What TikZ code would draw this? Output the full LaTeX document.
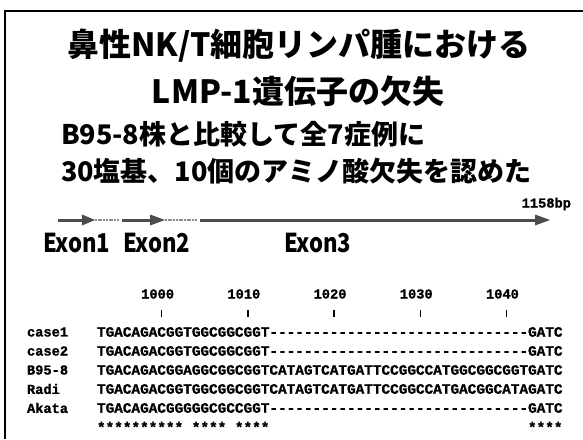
\documentclass[tikz,border=0pt]{standalone}
\usepackage{fontspec}
\setmainfont{Liberation Sans}
\newfontfamily\jp{Noto Sans CJK JP}
\newfontfamily\jpn{Noto Sans CJK JP}[FakeStretch=0.85]
\newfontfamily\seqf{Liberation Mono}[Ligatures=TeXOff,BoldFeatures={FakeBold=1.2}]
\begin{document}
\begin{tikzpicture}[x=1pt,y=-1pt,
  every node/.style={inner sep=0pt,outer sep=0pt},
  titletext/.style={font=\jp\bfseries\fontsize{32}{32}\selectfont},
  subtext/.style={font=\jp\bfseries\fontsize{27}{27}\selectfont,anchor=west},
  exontext/.style={font=\jpn\bfseries\fontsize{26}{26}\selectfont,anchor=west},
  seqtext/.style={font=\seqf\bfseries\fontsize{14.37}{14.37}\selectfont,anchor=west},
  lbltext/.style={font=\seqf\bfseries\fontsize{13.7}{13.7}\selectfont,anchor=west},
  numtext/.style={font=\seqf\bfseries\fontsize{13.7}{13.7}\selectfont},
  darkseg/.style={line width=3pt,draw=black!70},
  lightseg/.style={line width=2pt,draw=black!45,dash pattern=on 2pt off 0.7pt},
  headfill/.style={fill=black!70},
  tick/.style={line width=1.4pt}]
\useasboundingbox (0,0) rectangle (583,439);
\fill[white] (0,0) rectangle (583,439);
% frame
\draw[line width=2pt] (5,439) -- (5,11) -- (583,11);
% titles
\node[titletext] (t1) at (299,46) {鼻性NK/T細胞リンパ腫における};
\node[titletext] (t2) at (298,91) {LMP-1遺伝子の欠失};
\node[subtext] (s1) at (61,134) {B95-8株と比較して全7症例に};
\node[subtext] (s2) at (61,171) {30塩基、10個のアミノ酸欠失を認めた};
% gene arrow
\draw[darkseg] (58,220) -- (84,220);
\fill[headfill] (82,214.5) -- (95,220) -- (82,225.5) -- cycle;
\draw[lightseg] (95,220) -- (119,220);
\draw[darkseg] (122,220) -- (152,220);
\fill[headfill] (150,214.5) -- (165,220) -- (150,225.5) -- cycle;
\draw[lightseg] (165,220) -- (197,220);
\draw[darkseg] (200,220) -- (537,220);
\fill[headfill] (535,214.5) -- (550,220) -- (535,225.5) -- cycle;
\node[lbltext,anchor=east] (bp) at (571,204) {1158bp};
\node[exontext] (ex1) at (43,243) {Exon1};
\node[exontext] (ex2) at (123,243) {Exon2};
\node[exontext] (ex3) at (284,243) {Exon3};
% alignment numbering
\foreach \n/\i in {1000/7,1010/17,1020/27,1030/37,1040/47}{
  \pgfmathsetmacro\xx{97+(\i+0.5)*8.62}
  \node[numtext] (num\n) at (\xx-4,294) {\n};
  \draw[tick] (\xx,310) -- (\xx,317);
}
% labels
\node[lbltext] (l1) at (27,332) {case1};
\node[lbltext] (l2) at (27,351) {case2};
\node[lbltext] (l3) at (27,370) {B95-8};
\node[lbltext] (l4) at (27,389) {Radi};
\node[lbltext] (l5) at (27,408) {Akata};
% sequences
\node[seqtext] (q1) at (97,332) {TGACAGACGGTGGCGGCGGT------------------------------GATC};
\node[seqtext] (q2) at (97,351) {TGACAGACGGTGGCGGCGGT------------------------------GATC};
\node[seqtext] (q3) at (97,370) {TGACAGACGGAGGCGGCGGTCATAGTCATGATTCCGGCCATGGCGGCGGTGATC};
\node[seqtext] (q4) at (97,389) {TGACAGACGGTGGCGGCGGTCATAGTCATGATTCCGGCCATGACGGCATAGATC};
\node[seqtext] (q5) at (97,408) {TGACAGACGGGGGCGCCGGT------------------------------GATC};
% conservation stars
\node[seqtext] (st1) at (97,427) {**********};
\node[seqtext] (st2) at (97+11*8.62,427) {****};
\node[seqtext] (st3) at (97+16*8.62,427) {****};
\node[seqtext] (st4) at (97+50*8.62,427) {****};
\end{tikzpicture}
\end{document}
